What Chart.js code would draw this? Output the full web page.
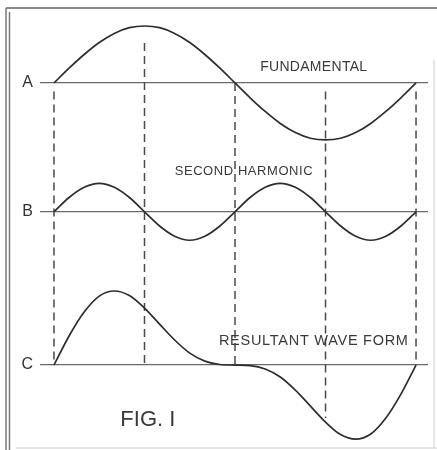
<!DOCTYPE html>
<html>
<head>
<meta charset="utf-8">
<style>
  html, body { margin: 0; padding: 0; background: #fff; }
  #wrap { position: relative; width: 437px; height: 450px; }
</style>
</head>
<body>
<div id="wrap"><canvas id="fig1" width="437" height="450"></canvas></div>
<script src="https://cdn.jsdelivr.net/npm/chart.js@4.4.1/dist/chart.umd.min.js"></script>
<script>
// electrical degrees along one period of the fundamental
const degrees = [0, 15, 30, 45, 60, 75, 90, 105, 120, 135, 150, 165, 180,
                 195, 210, 225, 240, 255, 270, 285, 300, 315, 330, 345, 360];

// wave heights (fundamental peak = 1)
const fundamental = [0, 0.26, 0.5, 0.71, 0.87, 0.97, 1.0, 0.97, 0.87, 0.71, 0.5, 0.26, 0,
                     -0.26, -0.5, -0.71, -0.87, -0.97, -1.0, -0.97, -0.87, -0.71, -0.5, -0.26, 0];
const secondHarmonic = [0, 0.25, 0.43, 0.5, 0.43, 0.25, 0, -0.25, -0.43, -0.5, -0.43, -0.25, 0,
                        0.25, 0.43, 0.5, 0.43, 0.25, 0, -0.25, -0.43, -0.5, -0.43, -0.25, 0];
const resultant = [0, 0.51, 0.93, 1.21, 1.3, 1.22, 1.0, 0.72, 0.44, 0.21, 0.07, 0.01, 0,
                   -0.01, -0.07, -0.21, -0.44, -0.72, -1.0, -1.22, -1.3, -1.21, -0.93, -0.51, 0];

// the three rows and their zero lines
const rowLabels = ['A', 'B', 'C'];
const rowBaselines = [0, -2.26, -4.95];

// dashed guide lines (degrees, top and bottom in wave units)
const guideDegrees = [0, 90, 180, 270, 360];
const guideTop = [-0.15, 0.7, 0, -0.15, -0.15];
const guideBottom = [-4.95, -4.95, -4.95, -5.88, -4.95];

// captions
const captions = [
  { text: 'FUNDAMENTAL', x: 205, y: 0.28, size: 14, width: 107 },
  { text: 'SECOND HARMONIC', x: 120, y: -1.56, size: 13, width: 138 },
  { text: 'RESULTANT WAVE FORM', x: 164, y: -4.53, size: 14.5, width: 189 },
  { text: 'FIG. I', x: 66, y: -5.92, size: 22, width: 55 }
];

const waves = [fundamental, secondHarmonic, resultant];

const datasets = [];
waves.forEach((wave, r) => {
  datasets.push({
    data: degrees.map((d, i) => ({ x: d, y: rowBaselines[r] + wave[i] })),
    borderColor: '#2e2e2e',
    borderWidth: 1.7,
    pointRadius: 0,
    cubicInterpolationMode: 'monotone',
    order: 1
  });
});
guideDegrees.forEach((d, i) => {
  datasets.push({
    data: [{ x: d, y: guideTop[i] }, { x: d, y: guideBottom[i] }],
    borderColor: '#4a4a4a',
    borderWidth: 1.5,
    borderDash: [8, 5],
    pointRadius: 0,
    order: 2
  });
});

// old paper frame round the figure
const framePlugin = {
  id: 'frame',
  beforeDraw(chart) {
    const c = chart.ctx;
    c.save();
    c.fillStyle = '#ffffff';
    c.fillRect(0, 0, chart.width, chart.height);
    c.strokeStyle = '#8a8a8a';
    c.lineWidth = 2;
    c.beginPath(); c.moveTo(6, 8); c.lineTo(437, 8); c.stroke();
    c.strokeStyle = '#777';
    c.lineWidth = 1.5;
    c.beginPath(); c.moveTo(6, 8); c.lineTo(6, 450); c.stroke();
    c.beginPath(); c.moveTo(9.5, 12); c.lineTo(9.5, 450); c.stroke();
    c.strokeStyle = '#cfcfcf';
    c.lineWidth = 1;
    c.beginPath(); c.moveTo(16, 448); c.lineTo(437, 448); c.stroke();
    c.beginPath(); c.moveTo(434, 60); c.lineTo(434, 448); c.stroke();
    c.restore();
  }
};

// row letters and captions, placed through the chart scales
const captionPlugin = {
  id: 'captions',
  afterDatasetsDraw(chart) {
    const c = chart.ctx;
    const xs = chart.scales.x, ys = chart.scales.y;
    c.save();
    c.fillStyle = '#333';
    c.textBaseline = 'middle';
    c.textAlign = 'right';
    c.font = '16px "Liberation Sans", Arial, sans-serif';
    rowLabels.forEach((lab, i) => {
      c.fillText(lab, chart.chartArea.left - 7, ys.getPixelForValue(rowBaselines[i]));
    });
    c.fillStyle = '#3a3a3a';
    c.textAlign = 'left';
    captions.forEach(cap => {
      c.font = cap.size + 'px "Liberation Sans", Arial, sans-serif';
      c.letterSpacing = '0px';
      const w = c.measureText(cap.text).width;
      c.letterSpacing = ((cap.width - w) / (cap.text.length - 1)).toFixed(2) + 'px';
      c.fillText(cap.text, xs.getPixelForValue(cap.x), ys.getPixelForValue(cap.y));
    });
    c.restore();
  }
};

new Chart(document.getElementById('fig1'), {
  type: 'line',
  data: { datasets },
  options: {
    responsive: false,
    animation: false,
    events: [],
    layout: { padding: { left: 0, right: 9, top: 0, bottom: 0 } },
    plugins: { legend: { display: false }, tooltip: { enabled: false } },
    scales: {
      x: { type: 'linear', min: -13.9, max: 371.9, display: false },
      y: {
        min: -6.44, max: 1.456,
        afterFit(scale) { scale.width = 40; },
        afterBuildTicks(scale) { scale.ticks = rowBaselines.map(v => ({ value: v })); },
        border: { display: false },
        grid: { color: '#6a6a6a', lineWidth: 1.3, drawTicks: false },
        ticks: { display: false }
      }
    }
  },
  plugins: [framePlugin, captionPlugin]
});
</script>
</body>
</html>
